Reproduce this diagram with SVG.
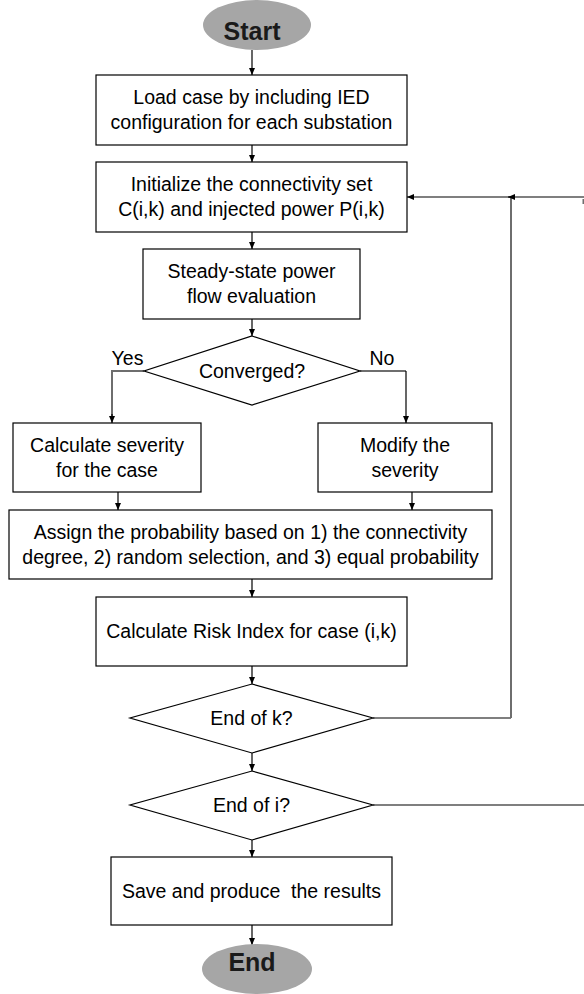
<svg xmlns="http://www.w3.org/2000/svg" width="584" height="994" viewBox="0 0 584 994">
<style>
.box{fill:#fff;stroke:#000;stroke-width:1.2}
.term{fill:#a6a6a6;stroke:none}
.t{font-family:"Liberation Sans",Arial,sans-serif;font-size:19.5px;fill:#000;text-anchor:middle}
.tb{font-family:"Liberation Sans",Arial,sans-serif;font-size:25px;font-weight:bold;fill:#1a1a1a;text-anchor:middle}
.ln{fill:none;stroke:#000;stroke-width:1.2}
.gl{fill:none;stroke:#6e6e6e;stroke-width:2}
</style>
<defs>
<marker id="ah" markerUnits="userSpaceOnUse" markerWidth="7" markerHeight="7" refX="7" refY="3.5" orient="auto">
<path d="M0,0.5 L7,3.5 L0,6.5 z" fill="#000"/>
</marker>
</defs>
<g id="connectors">
<path class="ln" d="M252,50 V75" marker-end="url(#ah)"/>
<path class="ln" d="M252,145 V162" marker-end="url(#ah)"/>
<path class="ln" d="M252,232 V249" marker-end="url(#ah)"/>
<path class="ln" d="M252,319 V336" marker-end="url(#ah)"/>
<path class="gl" d="M144,371 H112 V416"/>
<path class="ln" d="M112,414 V423" marker-end="url(#ah)"/>
<path class="gl" d="M360,371 H406"/>
<path class="ln" d="M406,371 V423" marker-end="url(#ah)"/>
<path class="ln" d="M118,492 V510" marker-end="url(#ah)"/>
<path class="ln" d="M412,492 V510" marker-end="url(#ah)"/>
<path class="ln" d="M252,579 V597" marker-end="url(#ah)"/>
<path class="ln" d="M252,666 V684" marker-end="url(#ah)"/>
<path class="ln" d="M252,753 V771" marker-end="url(#ah)"/>
<path class="ln" d="M252,840 V857" marker-end="url(#ah)"/>
<path class="ln" d="M252,925 V945" marker-end="url(#ah)"/>
<path class="ln" d="M373,718 H511"/>
<path class="gl" d="M511,718 V197"/>
<path class="ln" d="M511,197 H407" marker-end="url(#ah)"/>
<path class="ln" d="M584,197 H508" marker-end="url(#ah)"/>
<path class="ln" d="M373,805 H584"/>
<path class="gl" d="M583.5,199 V204" stroke-width="1"/>
</g>
<g id="start">
<ellipse class="term" cx="257" cy="25" rx="54" ry="25"/>
<text class="tb" x="252" y="40">Start</text>
</g>
<g id="load">
<rect class="box" x="96" y="75" width="311" height="70"/>
<text class="t" x="251.5" y="104">Load case by including IED</text>
<text class="t" x="251.5" y="129">configuration for each substation</text>
</g>
<g id="init">
<rect class="box" x="96" y="162" width="311" height="70"/>
<text class="t" x="251.5" y="191">Initialize the connectivity set</text>
<text class="t" x="251.5" y="216">C(i,k) and injected power P(i,k)</text>
</g>
<g id="steady">
<rect class="box" x="143" y="249" width="217" height="70"/>
<text class="t" x="251.5" y="278">Steady-state power</text>
<text class="t" x="251.5" y="303">flow evaluation</text>
</g>
<g id="converged">
<polygon class="box" points="252,336 360,371 252,405 144,371"/>
<text class="t" x="252" y="378">Converged?</text>
</g>
<g id="yes-label"><text class="t" x="127.5" y="365">Yes</text></g>
<g id="no-label"><text class="t" x="382" y="365">No</text></g>
<g id="calc-severity">
<rect class="box" x="13" y="423" width="188" height="69"/>
<text class="t" x="107" y="452">Calculate severity</text>
<text class="t" x="107" y="477">for the case</text>
</g>
<g id="modify">
<rect class="box" x="318" y="423" width="174" height="69"/>
<text class="t" x="405" y="452">Modify the</text>
<text class="t" x="405" y="477">severity</text>
</g>
<g id="assign">
<rect class="box" x="9" y="510" width="483" height="69"/>
<text class="t" x="250.5" y="539">Assign the probability based on 1) the connectivity</text>
<text class="t" x="250.5" y="564">degree, 2) random selection, and 3) equal probability</text>
</g>
<g id="risk">
<rect class="box" x="96" y="597" width="311" height="69"/>
<text class="t" x="251.5" y="638">Calculate Risk Index for case (i,k)</text>
</g>
<g id="end-k">
<polygon class="box" points="252,684 373,718 252,753 130,718"/>
<text class="t" x="251.5" y="725">End of k?</text>
</g>
<g id="end-i">
<polygon class="box" points="252,771 373,805 252,840 130,805"/>
<text class="t" x="251.5" y="812">End of i?</text>
</g>
<g id="save">
<rect class="box" x="111" y="857" width="281" height="68"/>
<text class="t" x="251.5" y="898" xml:space="preserve">Save and produce  the results</text>
</g>
<g id="end">
<ellipse class="term" cx="257" cy="969" rx="55" ry="25"/>
<text class="tb" x="252" y="971">End</text>
</g>
</svg>
